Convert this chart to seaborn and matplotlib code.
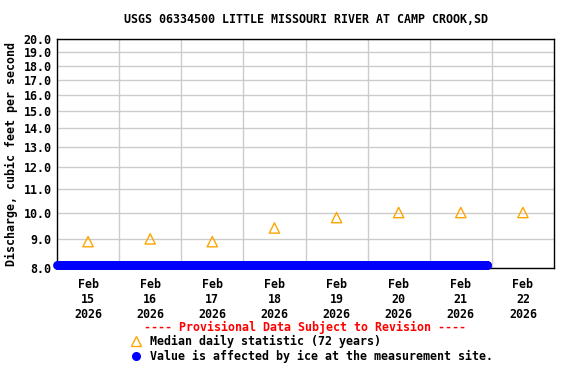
import numpy as np
import pandas as pd
import matplotlib
matplotlib.use("Agg")
import matplotlib.pyplot as plt
import matplotlib.dates as mdates
from matplotlib.lines import Line2D
import seaborn as sns

# ---- data ----
title = "USGS 06334500 LITTLE MISSOURI RIVER AT CAMP CROOK,SD"
median_dates = ["2026-02-15 12:00", "2026-02-16 12:00", "2026-02-17 12:00", "2026-02-18 12:00",
                "2026-02-19 12:00", "2026-02-20 12:00", "2026-02-21 12:00", "2026-02-22 12:00"]
median_values = [8.9, 9.0, 8.9, 9.4, 9.8, 10.0, 10.0, 10.0]
ice_start = "2026-02-15 00:00"
ice_end = "2026-02-21 22:15"
ice_value = 8.1
y_ticks = [8.0, 9.0, 10.0, 11.0, 12.0, 13.0, 14.0, 15.0, 16.0, 17.0, 18.0, 19.0, 20.0]
x_tick_days = ["2026-02-15", "2026-02-16", "2026-02-17", "2026-02-18",
               "2026-02-19", "2026-02-20", "2026-02-21", "2026-02-22"]

sns.set_style("white")
plt.rcParams['font.family'] = ['DejaVu Sans Mono', 'DejaVu Sans']
plt.rcParams['font.weight'] = 'bold'
plt.rcParams['text.color'] = 'black'
plt.rcParams['axes.labelcolor'] = 'black'
plt.rcParams['xtick.color'] = 'black'
plt.rcParams['ytick.color'] = 'black'

FS = 8.4

ice_times = pd.date_range(ice_start, ice_end, freq="15min")
ice_df = pd.DataFrame({"t": ice_times, "v": [ice_value] * len(ice_times)})
med_df = pd.DataFrame({"t": pd.to_datetime(median_dates), "v": median_values})

fig = plt.figure(figsize=(5.76, 3.84), dpi=100)
ax = fig.add_axes([57/576, 1-268.3/384, (554-57)/576, (268.3-39.3)/384])

ax.set_yscale("log")
ax.set_ylim(8.0, 20.0)
ax.set_xlim(pd.Timestamp("2026-02-15 00:00"), pd.Timestamp("2026-02-23 00:00"))

# grid
ax.set_yticks(y_ticks)
ax.set_yticklabels([f"{v:.1f}" for v in y_ticks])
ax.yaxis.set_minor_locator(matplotlib.ticker.NullLocator())
day_mid = pd.to_datetime(x_tick_days) + pd.Timedelta(hours=12)
ax.set_xticks(day_mid)
ax.set_xticklabels([f"{d.strftime('%b')}\n{d.day}\n{d.year}" for d in pd.to_datetime(x_tick_days)])
ax.set_xticks(pd.date_range("2026-02-16", "2026-02-22", freq="D"), minor=True)
ax.grid(True, which="minor", axis="x", color="#cccccc", lw=1)
ax.grid(True, which="major", axis="y", color="#cccccc", lw=1)
ax.grid(False, which="major", axis="x")
ax.set_axisbelow(True)

sns.scatterplot(data=ice_df, x="t", y="v", ax=ax, color="#0000FF", s=40, marker="o",
                edgecolor="#0000FF", linewidth=0, clip_on=False, zorder=3, legend=False)
sns.scatterplot(data=med_df, x="t", y="v", ax=ax, marker="^", s=55, facecolor="none",
                edgecolor="#FFA500", linewidth=1.0, zorder=4, legend=False)

ax.tick_params(axis="both", length=0, labelsize=FS, colors="black")
ax.tick_params(axis="x", pad=7)
ax.tick_params(axis="y", pad=4)
for lab in ax.get_xticklabels() + ax.get_yticklabels():
    lab.set_fontweight("bold")
ax.set_xlabel("")
ax.set_ylabel("Discharge, cubic feet per second", fontsize=FS, fontweight="bold", color="black")
ax.yaxis.set_label_coords(-0.078, 0.5)
ax.set_title(title, fontsize=FS, fontweight="bold", pad=11.5, color="black")
for s in ax.spines.values():
    s.set_color("black")
    s.set_linewidth(1)
    s.set_visible(True)

# legend (manual, below plot)
fig.text(305/576, 1-327/384, "---- Provisional Data Subject to Revision ----", color="#FF0000",
         ha="center", va="center", fontsize=FS, fontweight="bold")
fig.add_artist(Line2D([136/576], [1-341/384], marker="^", markersize=7, markerfacecolor="none",
                      markeredgecolor="#FFA500", markeredgewidth=1.0, transform=fig.transFigure))
fig.text(150/576, 1-341/384, "Median daily statistic (72 years)", color="black",
         ha="left", va="center", fontsize=FS, fontweight="bold")
fig.add_artist(Line2D([136/576], [1-356/384], marker="o", markersize=5.5, markerfacecolor="#0000FF",
                      markeredgecolor="#0000FF", transform=fig.transFigure))
fig.text(150/576, 1-356/384, "Value is affected by ice at the measurement site.", color="black",
         ha="left", va="center", fontsize=FS, fontweight="bold")

fig.savefig("out.png", dpi=100)
